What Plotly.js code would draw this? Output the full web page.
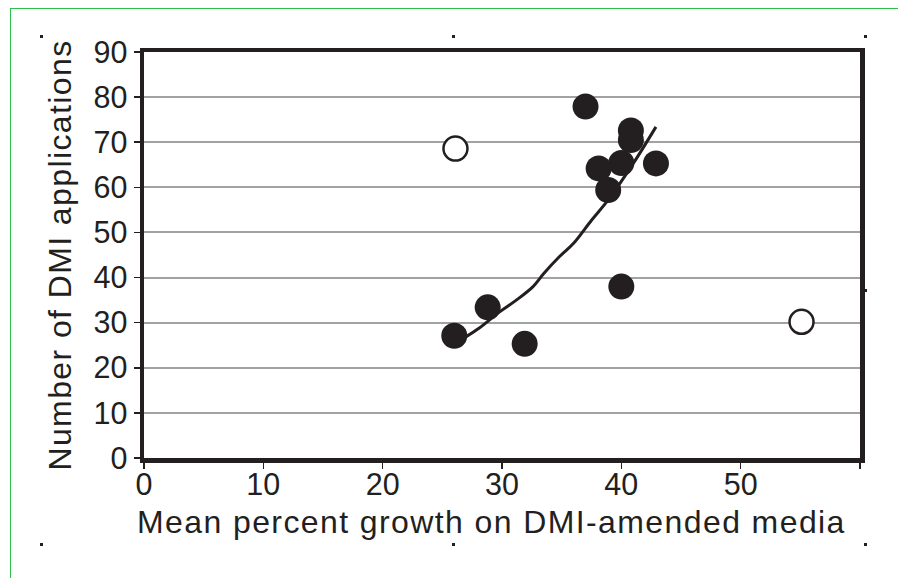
<!DOCTYPE html>
<html>
<head>
<meta charset="utf-8">
<script src="https://cdn.plot.ly/plotly-3.0.1.min.js"></script>
<style>
  html, body { margin: 0; padding: 0; background: #ffffff; }
  #wrap { position: relative; width: 898px; height: 578px; overflow: hidden; }
  #chart { position: absolute; left: 0; top: 0; width: 898px; height: 578px; }
  #frame { position: absolute; left: 10px; top: 8px; width: 900px; height: 600px;
           border: 1.5px solid #2dbf4c; box-sizing: border-box; pointer-events: none; }
  .mark { position: absolute; width: 3px; height: 3px; background: #231f20; }
  /* axis titles are set a little wider than the tick labels */
  #chart .g-ytitle text, #chart .annotation-text { letter-spacing: 1.4px; }
</style>
</head>
<body>
<div id="wrap">
  <div id="chart"></div>
  <div id="frame"></div>
  <div class="mark" style="left:40px; top:35px;"></div>
  <div class="mark" style="left:452px; top:35px;"></div>
  <div class="mark" style="left:864px; top:35px;"></div>
  <div class="mark" style="left:864px; top:289px;"></div>
  <div class="mark" style="left:40px; top:543px;"></div>
  <div class="mark" style="left:452px; top:543px;"></div>
  <div class="mark" style="left:864px; top:543px;"></div>
</div>
<script>
// Isolates included in the fit (filled symbols)
const fitGrowth = [37.0, 40.8, 40.8, 40.0, 42.9, 38.1, 38.9, 40.0, 28.8, 26.0, 31.9];
const fitApps   = [77.9, 72.6, 70.5, 65.4, 65.3, 64.2, 59.4, 38.0, 33.4, 27.1, 25.3];

// Outlying isolates (open symbols)
const outGrowth = [26.1, 55.1];
const outApps   = [68.6, 30.2];

// Fitted trend curve
const trendGrowth = [27.0, 28.1, 29.8, 31.2, 32.6, 33.5, 34.8, 36.0, 37.5, 38.9, 41.0, 42.9];
const trendApps   = [26.9, 28.8, 32.4, 35.0, 38.0, 40.9, 44.6, 47.6, 52.7, 57.2, 65.3, 73.4];

const xTicks = [0, 10, 20, 30, 40, 50, 60];
const xTickText = ['0', '10', '20', '30', '40', '50', ''];
const yTicks = [0, 10, 20, 30, 40, 50, 60, 70, 80, 90];

const xTitle = 'Mean percent growth on DMI-amended media';
const yTitle = 'Number of DMI applications';

const ink = '#231f20';
const font = 'Liberation Sans, Arial, Helvetica, sans-serif';

const traces = [
  {
    x: trendGrowth, y: trendApps, type: 'scatter', mode: 'lines',
    line: { color: ink, width: 3, shape: 'spline' },
    hoverinfo: 'skip', showlegend: false
  },
  {
    x: fitGrowth, y: fitApps, type: 'scatter', mode: 'markers',
    marker: { size: 26, color: ink, line: { width: 0 } },
    showlegend: false
  },
  {
    x: outGrowth, y: outApps, type: 'scatter', mode: 'markers',
    marker: { size: 24, color: '#ffffff', line: { width: 2.5, color: ink } },
    showlegend: false
  }
];

const layout = {
  width: 898, height: 578,
  margin: { l: 144, r: 38, t: 52, b: 120, pad: 0 },
  paper_bgcolor: 'rgba(0,0,0,0)',
  plot_bgcolor: '#ffffff',
  font: { family: font, color: ink, size: 30 },
  showlegend: false,
  xaxis: {
    range: [0, 60], tickvals: xTicks, ticktext: xTickText,
    showgrid: false, zeroline: false,
    showline: true, linecolor: ink, linewidth: 4.5, mirror: true,
    ticks: 'outside', ticklen: 6, tickwidth: 1.5, tickcolor: ink,
    ticklabelstandoff: -10,
    tickfont: { size: 30.5, family: font, color: ink }
  },
  yaxis: {
    range: [0, 90], tickvals: yTicks,
    showgrid: true, gridcolor: '#a2a2a2', gridwidth: 2,
    zeroline: false,
    showline: true, linecolor: ink, linewidth: 4.5, mirror: true,
    ticks: 'outside', ticklen: 6, tickwidth: 1.5, tickcolor: ink,
    tickfont: { size: 30.5, family: font, color: ink },
    title: { text: yTitle,
             font: { size: 32, family: font, color: ink }, standoff: 14 }
  },
  annotations: [
    {
      text: xTitle, xref: 'paper', yref: 'paper',
      x: 0.4853, y: 0, xanchor: 'center', yanchor: 'top', yshift: -44,
      showarrow: false, font: { size: 32, family: font, color: ink }
    }
  ]
};

Plotly.newPlot('chart', traces, layout, { displayModeBar: false, staticPlot: true });
</script>
</body>
</html>
